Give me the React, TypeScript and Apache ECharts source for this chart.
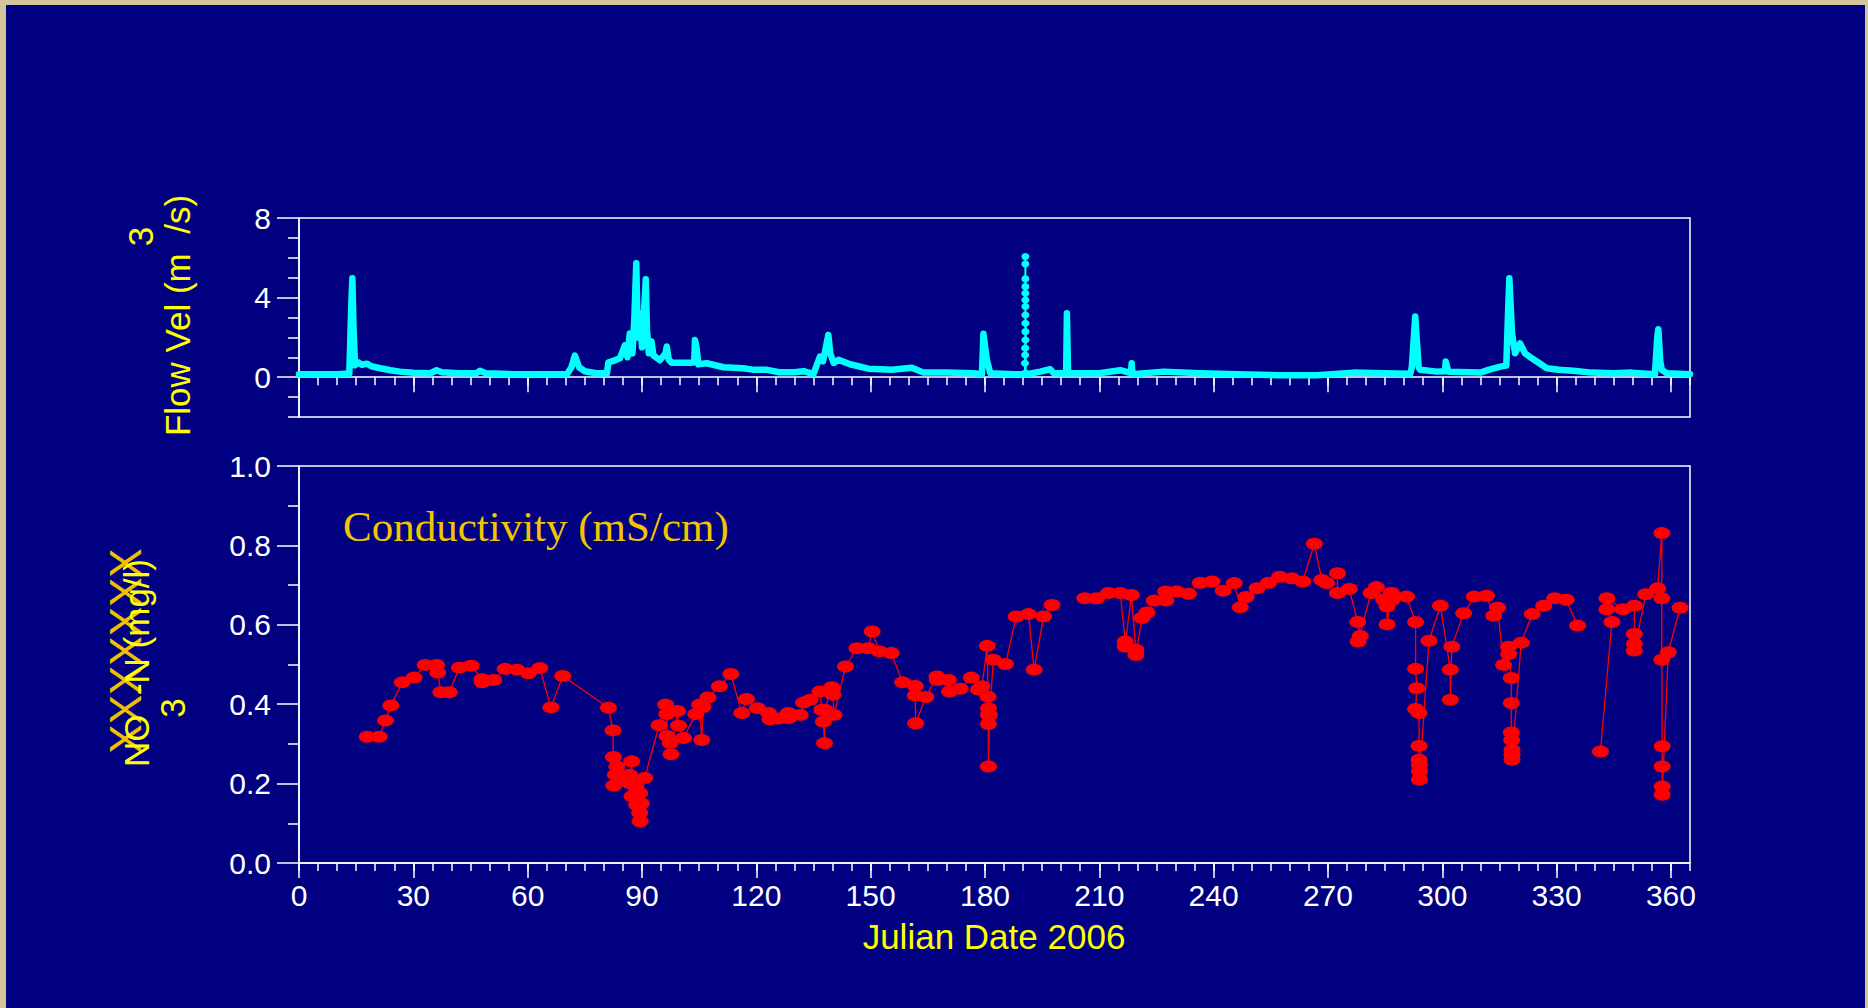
import React, { useEffect, useRef } from "react";
import * as echarts from "echarts";

// ---------- axis ticks / labels ----------
const dayMajorTicks = [0, 30, 60, 90, 120, 150, 180, 210, 240, 270, 300, 330, 360];
const dayMinorTicks = [
  0, 5, 10, 15, 20, 25, 30, 35, 40, 45, 50, 55, 60, 65, 70, 75, 80, 85, 90, 95, 100,
  105, 110, 115, 120, 125, 130, 135, 140, 145, 150, 155, 160, 165, 170, 175, 180, 185,
  190, 195, 200, 205, 210, 215, 220, 225, 230, 235, 240, 245, 250, 255, 260, 265, 270,
  275, 280, 285, 290, 295, 300, 305, 310, 315, 320, 325, 330, 335, 340, 345, 350, 355,
  360, 365,
];
const flowMajorTicks = [0, 4, 8];
const flowMinorTicks = [-2, -1, 1, 2, 3, 5, 6, 7];
const condMajorTicks = [0, 0.2, 0.4, 0.6, 0.8, 1.0];
const condMinorTicks = [0.1, 0.3, 0.5, 0.7, 0.9];

// ---------- texts ----------
const xTitle = "Julian Date 2006";
const flowTitle = "Flow Vel (m  /s)";
const flowTitleSup = "3";
const condTitle = "NO  -N (mg/l)";
const condTitleSub = "3";
const condStrike = "XXXXXXX";
const condLabel = "Conductivity (mS/cm)";

// ---------- flow velocity (day, m3/s) ----------
const flowPoints: [number, number][] = [
  [0, 0.15], [5, 0.15], [10, 0.15], [13.2, 0.18], [13.7, 3.5], [14.0, 4.97], [14.3, 2.5],
  [14.7, 0.6], [15.5, 0.75], [16.5, 0.62], [17.8, 0.68], [19, 0.55], [21.3, 0.45],
  [24, 0.35], [26.5, 0.28], [30, 0.22], [34.5, 0.2], [36.1, 0.35], [37.5, 0.25], [42, 0.2],
  [46.5, 0.2], [47.5, 0.32], [49, 0.2], [56, 0.15], [65, 0.15], [70.3, 0.15], [71.5, 0.5],
  [72.4, 1.09], [73.5, 0.5], [75, 0.3], [78, 0.2], [80.8, 0.2], [81.2, 0.75], [82.5, 0.82],
  [84.2, 0.95], [85.5, 1.6], [86.2, 1.0], [86.8, 2.2], [87.5, 1.2], [88.0, 3.0], [88.5, 5.73],
  [88.9, 2.0], [89.5, 3.2], [90.0, 1.5], [90.6, 3.5], [91.0, 4.92], [91.3, 2.4], [91.8, 1.2],
  [92.5, 1.8], [93, 1.1], [94.7, 0.85], [96.2, 1.2], [96.5, 1.54], [97.0, 0.9], [97.8, 0.72],
  [100, 0.72], [102.6, 0.72], [103.7, 0.75], [103.9, 1.87], [104.3, 1.5], [104.8, 0.65],
  [107, 0.7], [111.4, 0.5], [116.6, 0.45], [119.3, 0.37], [122.8, 0.37], [126, 0.25],
  [130, 0.25], [132.4, 0.3], [135, 0.15], [136.7, 1.04], [137.5, 0.8], [138.9, 2.13],
  [139.4, 1.2], [140.3, 0.72], [141.6, 0.87], [144.6, 0.65], [149.4, 0.43], [155.6, 0.37],
  [160.8, 0.48], [163.9, 0.23], [170, 0.23], [177, 0.2], [179.2, 0.15], [179.6, 2.18],
  [180.5, 0.87], [181.4, 0.2], [187.5, 0.15], [191, 0.15], [194.5, 0.28], [197.1, 0.4],
  [198, 0.2], [201.3, 0.2], [201.5, 3.21], [201.8, 0.2], [205, 0.2], [210, 0.2],
  [215.5, 0.35], [218.3, 0.2], [218.5, 0.7], [218.7, 0.15], [226.9, 0.28], [236.5, 0.2],
  [246.1, 0.15], [257, 0.1], [267.1, 0.1], [276.7, 0.23], [284.6, 0.2], [291.6, 0.17],
  [292, 0.5], [292.9, 3.05], [293.8, 0.5], [294.2, 0.37], [298.6, 0.28], [300.7, 0.3],
  [300.9, 0.79], [301.6, 0.28], [310, 0.23], [312.1, 0.37], [315.2, 0.53], [316.8, 0.58],
  [317.3, 3.5], [317.6, 4.97], [318.3, 2.2], [319.1, 1.2], [320.4, 1.7], [321.7, 1.2],
  [323.5, 0.95], [325.5, 0.7], [327.4, 0.45], [330.5, 0.37], [334.4, 0.32], [339.2, 0.23],
  [344.9, 0.2], [349.7, 0.23], [355.8, 0.15], [356.4, 2.0], [356.7, 2.41], [357.2, 0.8],
  [357.6, 0.37], [358.9, 0.2], [365, 0.15],
];

// sampled spike near day 190 (individual readings visible)
const flowSpike190: [number, number][] = [
  [190.5, 0.2], [190.5, 0.7], [190.55, 1.12], [190.55, 1.46], [190.6, 1.87], [190.6, 2.29],
  [190.6, 2.71], [190.6, 3.13], [190.6, 3.55], [190.6, 3.88], [190.6, 4.22], [190.6, 4.55],
  [190.6, 4.94], [190.6, 5.69], [190.6, 6.06], [190.7, 0.2],
];

// ---------- conductivity (day, mS/cm); null = gap ----------
const condPoints: [number, number | null][] = [
  [17.9, 0.318], [21, 0.318], [22.7, 0.359], [24.1, 0.397], [27.1, 0.455], [30.2, 0.467],
  [33.1, 0.499], [36.1, 0.499], [36.4, 0.48], [37.2, 0.43], [39.4, 0.43], [42.1, 0.492],
  [45.2, 0.497], [48, 0.463], [48.1, 0.455], [51.1, 0.461], [54.1, 0.489], [57.2, 0.487],
  [60.2, 0.478], [63.2, 0.491], [66.1, 0.392], [69.2, 0.471], [81.2, 0.391], [82.4, 0.334],
  [82.5, 0.267], [82.6, 0.195], [83, 0.222], [83.4, 0.243], [85.1, 0.218], [86.7, 0.222],
  [86.8, 0.201], [87.3, 0.256], [87.4, 0.168], [88.2, 0.193], [88.6, 0.147], [89.4, 0.176],
  [89.4, 0.126], [89.5, 0.105], [89.8, 0.15], [90.7, 0.214], [94.5, 0.347], [96.2, 0.399],
  [96.5, 0.375], [96.6, 0.32], [97.4, 0.302], [97.6, 0.274], [99.3, 0.383], [99.6, 0.346],
  [100.9, 0.315], [104.1, 0.375], [105.1, 0.399], [105.7, 0.31], [106, 0.393], [107.3, 0.417],
  [110.3, 0.445], [113.3, 0.476], [116.2, 0.378], [117.4, 0.413], [120.3, 0.39], [123.2, 0.378],
  [123.6, 0.362], [125.8, 0.364], [128.4, 0.378], [128.5, 0.365], [131.5, 0.373], [132.4, 0.404],
  [134.1, 0.411], [136.7, 0.432], [137.2, 0.386], [137.6, 0.356], [137.9, 0.302], [138.0, 0.386],
  [139.8, 0.443], [140.1, 0.424], [140.4, 0.373], [143.4, 0.495], [146.4, 0.541], [149.4, 0.541],
  [150.4, 0.583], [152.3, 0.533], [155.4, 0.529], [158.4, 0.455], [161.7, 0.446], [161.7, 0.422],
  [161.8, 0.352], [164.5, 0.418], [167.4, 0.47], [167.5, 0.461], [170.4, 0.461], [170.7, 0.432],
  [173.5, 0.439], [176.4, 0.467], [178.3, 0.437], [179.2, 0.445], [180.6, 0.547], [180.8, 0.419],
  [180.9, 0.39], [180.9, 0.373], [180.9, 0.35], [180.9, 0.243], [181.2, 0.373], [182.2, 0.512],
  [185.4, 0.501], [188.2, 0.621], [191.4, 0.627], [192.9, 0.487], [195.4, 0.621], [197.6, 0.65],
  [201, null],
  [206.2, 0.667], [209.3, 0.667], [212.4, 0.68], [215.5, 0.68], [216.8, 0.558], [216.8, 0.545],
  [218.4, 0.675], [219.6, 0.537], [219.6, 0.524], [221.2, 0.617], [222.5, 0.631], [224.4, 0.661],
  [227.4, 0.684], [227.5, 0.661], [230.3, 0.684], [233.4, 0.678], [236.5, 0.706], [239.6, 0.709],
  [242.5, 0.686], [245.4, 0.705], [247, 0.644], [248.5, 0.67], [251.4, 0.692], [254.4, 0.706],
  [257.3, 0.721], [260.5, 0.717], [263.4, 0.709], [266.4, 0.804], [268.4, 0.713], [269.6, 0.705],
  [272.5, 0.73], [272.5, 0.68], [275.6, 0.69], [277.8, 0.607], [278.5, 0.572], [277.9, 0.558],
  [281.3, 0.68], [282.7, 0.695], [284.6, 0.663], [285.5, 0.646], [285.5, 0.601], [286.6, 0.681],
  [286.8, 0.663], [290.6, 0.671], [293, 0.607], [293, 0.489], [293.3, 0.44], [293, 0.388],
  [293.9, 0.378], [293.9, 0.295], [293.9, 0.26], [294, 0.247], [294, 0.231], [294, 0.21],
  [296.5, 0.56], [299.5, 0.648], [302.1, 0.487], [302.1, 0.411], [302.5, 0.545], [305.6, 0.629],
  [308.4, 0.671], [311.6, 0.673], [313.5, 0.623], [314.5, 0.643], [316.1, 0.499], [317.4, 0.545],
  [317.4, 0.526], [318.1, 0.466], [318.1, 0.403], [318.1, 0.329], [318.2, 0.31], [318.3, 0.285],
  [318.3, 0.273], [318.3, 0.26], [320.7, 0.555], [323.6, 0.627], [326.6, 0.648], [329.5, 0.667],
  [332.5, 0.663], [335.5, 0.598],
  [338.5, null],
  [341.5, 0.281], [344.5, 0.607], [343.2, 0.639], [343.2, 0.667], [347.4, 0.639], [350.4, 0.648],
  [350.4, 0.577], [350.4, 0.552], [350.4, 0.535], [353.4, 0.677], [356.5, 0.692], [357.6, 0.831],
  [357.6, 0.667], [357.6, 0.512], [357.7, 0.294], [357.7, 0.243], [357.7, 0.193], [357.7, 0.172],
  [359.3, 0.531], [362.4, 0.643],
];

const NAVY = "#000080";
const WHITE = "#ffffff";
const SANS = "Liberation Sans";

function App() {
  const ref = useRef<HTMLDivElement>(null);

  useEffect(() => {
    document.body.style.margin = "0";
    if (!ref.current) return;
    const chart = echarts.init(ref.current, null, { renderer: "svg" });

    const lineStyle = { color: WHITE, width: 1.5 };
    const gridL = 299;
    const gridR = 178;

    const mkX = (grid: number, ticks: number[], len: number, labels: boolean, main: boolean) => ({
      type: "value",
      gridIndex: grid,
      min: 0,
      max: 365,
      position: "bottom",
      axisLine: { show: main, lineStyle },
      axisTick: { show: true, customValues: ticks, length: len, inside: false, lineStyle },
      axisLabel: {
        show: labels,
        customValues: dayMajorTicks,
        color: WHITE,
        fontSize: 30,
        fontFamily: SANS,
        margin: 17,
      },
      splitLine: { show: false },
    });

    const mkY = (
      grid: number,
      min: number,
      max: number,
      ticks: number[],
      len: number,
      labelValues: number[] | null,
      fmt: (v: number) => string,
      main: boolean
    ) => ({
      type: "value",
      gridIndex: grid,
      min,
      max,
      position: "left",
      axisLine: { show: main, lineStyle },
      axisTick: { show: true, customValues: ticks, length: len, inside: false, lineStyle },
      axisLabel: labelValues
        ? {
            show: true,
            customValues: labelValues,
            formatter: fmt,
            color: WHITE,
            fontSize: 30,
            fontFamily: SANS,
            margin: 28,
          }
        : { show: false },
      splitLine: { show: false },
    });

    const rotText = (text: string, x: number, y: number, size: number, fill: string) => ({
      type: "text",
      x,
      y,
      rotation: Math.PI / 2,
      silent: true,
      z: 100,
      style: {
        text,
        fill,
        fontSize: size,
        fontFamily: SANS,
        textAlign: "center",
        textVerticalAlign: "middle",
        align: "center",
        verticalAlign: "middle",
      },
    });

    const option: any = {
      animation: false,
      backgroundColor: NAVY,
      grid: [
        {
          left: gridL,
          right: gridR,
          top: 218,
          height: 199,
          show: true,
          borderColor: WHITE,
          borderWidth: 1.5,
          backgroundColor: "transparent",
        },
        {
          left: gridL,
          right: gridR,
          top: 466,
          height: 397,
          show: true,
          borderColor: WHITE,
          borderWidth: 1.5,
          backgroundColor: "transparent",
        },
      ],
      xAxis: [
        mkX(0, dayMajorTicks, 15, false, true),
        mkX(0, dayMinorTicks, 8, false, false),
        mkX(1, dayMajorTicks, 15, true, true),
        mkX(1, dayMinorTicks, 8, false, false),
      ],
      yAxis: [
        mkY(0, -2, 8, flowMajorTicks, 22, flowMajorTicks, (v) => String(v), true),
        mkY(0, -2, 8, flowMinorTicks, 11, null, (v) => String(v), false),
        mkY(1, 0, 1, condMajorTicks, 22, condMajorTicks, (v) => v.toFixed(1), true),
        mkY(1, 0, 1, condMinorTicks, 11, null, (v) => String(v), false),
      ],
      series: [
        {
          name: "Flow",
          type: "line",
          xAxisIndex: 0,
          yAxisIndex: 0,
          data: flowPoints,
          showSymbol: false,
          symbol: "none",
          lineStyle: { color: "#00ffff", width: 6.5, cap: "round", join: "round" },
          itemStyle: { color: "#00ffff" },
          z: 3,
        },
        {
          name: "FlowSpike",
          type: "line",
          xAxisIndex: 0,
          yAxisIndex: 0,
          data: flowSpike190,
          showSymbol: true,
          symbol: "circle",
          symbolSize: [8, 7],
          lineStyle: { color: "#00ffff", width: 2 },
          itemStyle: { color: "#00ffff" },
          z: 4,
        },
        {
          name: "Conductivity",
          type: "line",
          xAxisIndex: 2,
          yAxisIndex: 2,
          data: condPoints.map(([d, v]) => [d, v === null ? "-" : v]),
          connectNulls: false,
          showSymbol: true,
          symbol: "circle",
          symbolSize: [17, 12],
          lineStyle: { color: "#ff0000", width: 1.3 },
          itemStyle: { color: "#ff0000" },
          z: 3,
        },
      ],
      graphic: [
        { type: "rect", silent: true, z: 200, shape: { x: 0, y: 0, width: 1868, height: 5 }, style: { fill: "#d4c49c" } },
        { type: "rect", silent: true, z: 200, shape: { x: 0, y: 0, width: 6, height: 1008 }, style: { fill: "#d4c49c" } },
        { type: "rect", silent: true, z: 200, shape: { x: 1865, y: 0, width: 3, height: 1008 }, style: { fill: "#d4c49c" } },
        {
          type: "text",
          x: 343,
          y: 526,
          silent: true,
          z: 100,
          style: {
            text: condLabel,
            fill: "#f5c400",
            fontSize: 43,
            fontFamily: "Liberation Serif",
            textAlign: "left",
            textVerticalAlign: "middle",
            align: "left",
            verticalAlign: "middle",
          },
        },
        {
          type: "text",
          x: 994,
          y: 936,
          silent: true,
          z: 100,
          style: {
            text: xTitle,
            fill: "#ffff00",
            fontSize: 35,
            fontFamily: SANS,
            textAlign: "center",
            textVerticalAlign: "middle",
            align: "center",
            verticalAlign: "middle",
          },
        },
        rotText(flowTitle, 177, 315.5, 35, "#ffff00"),
        rotText(flowTitleSup, 140, 236.5, 35, "#ffff00"),
        rotText(condStrike, 125, 651, 44, "#f0c000"),
        rotText(condTitle, 136, 663, 35, "#ffff00"),
        rotText(condTitleSub, 172, 708, 35, "#ffff00"),
      ],
    };

    chart.setOption(option);
    return () => chart.dispose();
  }, []);

  return <div ref={ref} style={{ width: 1868, height: 1008 }} />;
}

export default App;
